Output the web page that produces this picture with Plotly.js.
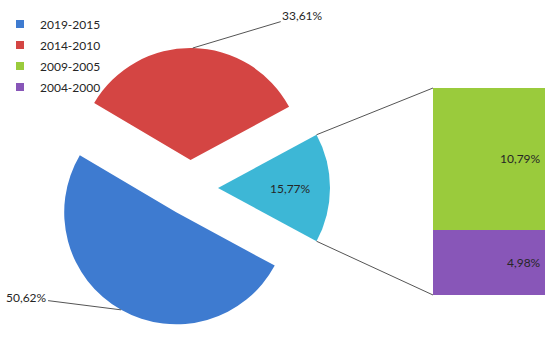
<!DOCTYPE html>
<html>
<head>
<meta charset="utf-8">
<script src="https://cdn.plot.ly/plotly-3.0.1.min.js"></script>
<style>
  html, body { margin: 0; padding: 0; background: #fff; }
  #chart { width: 550px; height: 337px; }
</style>
</head>
<body>
<div id="chart"></div>
<script>
// periods shown in the legend
const periods = ['2019-2015', '2014-2010', '2009-2005', '2004-2000']
// pie slices: first two periods + the group that is split into the bar
const pieShares = [50.62, 33.61, 15.77]
// the split bar (bottom to top is purple then green)
const barShares = [10.79, 4.98]
const colors = ['#3e7bd0', '#d44543', '#9acb3c', '#8856b8', '#3db7d6']

const W = 550, H = 337
const CX = 190, CY = 188, R = 112, PULL = 0.25

const fmt = v => v.toFixed(2).replace('.', ',') + '%'
const deg = Math.PI / 180

// pie domain so that plotly's radius = R
const half = R * (1 + PULL)
const pieDomain = {
    x: [(CX - half) / W, (CX + half) / W],
    y: [1 - (CY + half) / H, 1 - (CY - half) / H]
}

const total = pieShares.reduce((a, b) => a + b, 0)
const otherHalf = pieShares[2] / total * 180
// first slice starts just under the right-pointing slice, going clockwise
const startMath = -otherHalf
const rotation = 90 - startMath

// mid angle (math convention) of each slice
const mids = []
let cum = 0
pieShares.forEach(function (v) {
    mids.push(startMath - (cum + v / 2) / total * 360)
    cum += v
})

function piePoint(i, frac) {
    const a = mids[i] * deg
    const d = PULL * R + frac * R
    return { x: (CX + d * Math.cos(a)) / W, y: 1 - (CY - d * Math.sin(a)) / H }
}

const pie = {
    type: 'pie',
    values: pieShares,
    labels: ['a', 'b', 'c'],
    sort: false,
    direction: 'clockwise',
    rotation: rotation,
    pull: [PULL, PULL, PULL],
    domain: pieDomain,
    marker: { colors: [colors[0], colors[1], colors[4]], line: { width: 0 } },
    textinfo: 'none',
    hoverinfo: 'skip',
    showlegend: false
}

const barX = [433 / W, 545 / W]
const barY = [1 - 295 / H, 1 - 88 / H]

const traces = [pie]
// stacked split bar: purple at the bottom
traces.push({
    type: 'bar', x: [0], y: [barShares[1]], name: periods[3], width: 1,
    marker: { color: colors[3] }, showlegend: false, hoverinfo: 'skip'
})
traces.push({
    type: 'bar', x: [0], y: [barShares[0]], name: periods[2], width: 1,
    marker: { color: colors[2] }, showlegend: false, hoverinfo: 'skip'
})
// legend entries with small square markers
periods.forEach(function (p, i) {
    traces.push({
        type: 'scatter', mode: 'markers', x: [null], y: [null], name: p,
        marker: { symbol: 'square', size: 8, color: colors[i] },
        legendgroup: 'g' + i
    })
})

const barTotal = barShares[0] + barShares[1]

// connector lines from the small slice to the bar
const a0 = otherHalf * deg
const apexX = CX + PULL * R
const shapes = [
    {
        type: 'line', xref: 'paper', yref: 'paper',
        x0: (apexX + R * Math.cos(a0)) / W, y0: 1 - (CY - R * Math.sin(a0)) / H,
        x1: barX[0], y1: barY[1],
        line: { color: '#555', width: 1 }
    },
    {
        type: 'line', xref: 'paper', yref: 'paper',
        x0: (apexX + R * Math.cos(a0)) / W, y0: 1 - (CY + R * Math.sin(a0)) / H,
        x1: barX[0], y1: barY[0],
        line: { color: '#555', width: 1 }
    }
]

const labelFont = { family: 'Lato, sans-serif', size: 12, color: '#262626' }
const pBlue = piePoint(0, 1)
const pRed = piePoint(1, 1)
const pCyan = piePoint(2, 0.65)
const annotations = [
    {
        xref: 'paper', yref: 'paper', x: pBlue.x, y: pBlue.y, text: fmt(pieShares[0]),
        showarrow: true, arrowhead: 0, arrowwidth: 1, arrowcolor: '#555',
        ax: -95, ay: -12, font: labelFont
    },
    {
        xref: 'paper', yref: 'paper', x: pRed.x, y: pRed.y, text: fmt(pieShares[1]),
        showarrow: true, arrowhead: 0, arrowwidth: 1, arrowcolor: '#555',
        ax: 110, ay: -33, font: labelFont
    },
    {
        xref: 'paper', yref: 'paper', x: pCyan.x, y: pCyan.y, text: fmt(pieShares[2]),
        showarrow: false, font: labelFont
    },
    {
        xref: 'x', yref: 'y', x: 0.5, y: barShares[1] + barShares[0] / 2, text: fmt(barShares[0]),
        xanchor: 'right', xshift: -2, showarrow: false, font: labelFont
    },
    {
        xref: 'x', yref: 'y', x: 0.5, y: barShares[1] / 2, text: fmt(barShares[1]),
        xanchor: 'right', xshift: -2, showarrow: false, font: labelFont
    }
]

const layout = {
    width: W,
    height: H,
    margin: { l: 0, r: 0, t: 0, b: 0 },
    paper_bgcolor: '#fff',
    plot_bgcolor: 'rgba(0,0,0,0)',
    barmode: 'stack',
    bargap: 0,
    xaxis: { domain: barX, range: [-0.5, 0.5], visible: false, fixedrange: true },
    yaxis: { domain: barY, range: [0, barTotal], visible: false, fixedrange: true },
    showlegend: true,
    legend: {
        x: 0, y: 0.972, xanchor: 'left', yanchor: 'top',
        traceorder: 'grouped', tracegroupgap: 2,
        font: { family: 'Lato, sans-serif', size: 12, color: '#262626' },
        bgcolor: 'rgba(0,0,0,0)'
    },
    shapes: shapes,
    annotations: annotations
}

Plotly.newPlot('chart', traces, layout, { displayModeBar: false, staticPlot: true })
</script>
</body>
</html>
